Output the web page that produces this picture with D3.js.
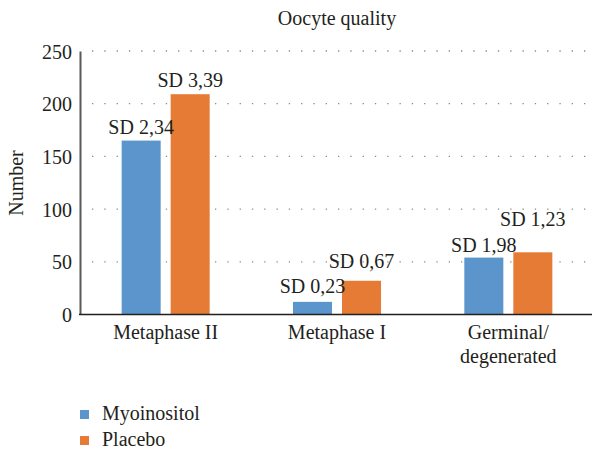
<!DOCTYPE html>
<html lang="en">
<head>
<meta charset="UTF-8">
<title>Oocyte quality</title>
<script src="https://d3js.org/d3.v7.min.js"></script>
<style>
    body { margin: 0; background: #fff; }
</style>
</head>
<body>
<div id="chart"></div>
<script>
    // data
    const categories = ["Metaphase II", "Metaphase I", "Germinal/\ndegenerated"];
    const series = ["Myoinositol", "Placebo"];
    const myoinositol = [165, 12, 54];
    const placebo = [209, 32, 59];
    const sdMyo = ["SD 2,34", "SD 0,23", "SD 1,98"];
    const sdPla = ["SD 3,39", "SD 0,67", "SD 1,23"];
    const yTicks = [0, 50, 100, 150, 200, 250];

    // how far each SD label sits above its bar (px)
    const liftMyo = [7, 9, 6];
    const liftPla = [7, 13, 26];

    const colors = ["#5b95cb", "#e57b35"];
    const serif = "'Liberation Serif', 'Times New Roman', serif";
    const fs = "20px";
    const width = 592, height = 451;

    const svg = d3.select("#chart").append("svg")
        .attr("width", width)
        .attr("height", height);

    const x = d3.scaleBand()
        .domain(categories)
        .range([80, 594]);

    const x1 = d3.scaleBand()
        .domain(series)
        .range([0, x.bandwidth()])
        .paddingInner(0.204)
        .paddingOuter(0.85);

    const y = d3.scaleLinear()
        .domain([0, 250])
        .range([314.5, 51]);

    function txt(sel) {
        return sel.style("font-family", serif).style("font-size", fs).attr("fill", "#231f20");
    }

    // title
    svg.append("text")
        .attr("x", 337).attr("y", 25)
        .attr("text-anchor", "middle")
        .call(txt)
        .text("Oocyte quality");

    // dotted gridlines
    svg.append("g")
        .selectAll("line")
        .data(yTicks.filter(d => d > 0))
        .join("line")
        .attr("x1", 92).attr("x2", 592)
        .attr("y1", d => y(d)).attr("y2", d => y(d))
        .attr("stroke", "#8a8a8a")
        .attr("stroke-width", 1.3)
        .attr("stroke-dasharray", "1.3,11");

    // y axis
    const yAxis = svg.append("g")
        .attr("transform", "translate(80,0)")
        .call(d3.axisLeft(y).tickValues(yTicks).tickSize(0).tickPadding(8));
    yAxis.select(".domain").attr("stroke", "#595959").attr("stroke-width", 2);
    yAxis.selectAll("text")
        .call(txt)
        .attr("dy", "0.35em");

    svg.append("text")
        .attr("transform", "translate(23,183) rotate(-90)")
        .attr("text-anchor", "middle")
        .call(txt)
        .text("Number");

    // bars
    const rows = categories.map((c, i) => ({
        cat: c,
        vals: [
            { s: series[0], v: myoinositol[i], sd: sdMyo[i], lift: liftMyo[i] },
            { s: series[1], v: placebo[i], sd: sdPla[i], lift: liftPla[i] }
        ]
    }));

    const groups = svg.append("g")
        .selectAll("g")
        .data(rows)
        .join("g")
        .attr("transform", d => "translate(" + x(d.cat) + ",0)");

    groups.selectAll("rect")
        .data(d => d.vals)
        .join("rect")
        .attr("x", d => x1(d.s))
        .attr("y", d => y(d.v))
        .attr("width", x1.bandwidth())
        .attr("height", d => y(0) - y(d.v))
        .attr("fill", (d, i) => colors[i]);

    groups.selectAll("text.sd")
        .data(d => d.vals)
        .join("text")
        .attr("class", "sd")
        .attr("x", d => x1(d.s) + x1.bandwidth() / 2)
        .attr("y", d => y(d.v) - d.lift)
        .attr("text-anchor", "middle")
        .call(txt)
        .text(d => d.sd);

    // x baseline
    svg.append("line")
        .attr("x1", 79).attr("x2", 592)
        .attr("y1", y(0)).attr("y2", y(0))
        .attr("stroke", "#231f20")
        .attr("stroke-width", 1.5);

    // category labels
    svg.append("g")
        .selectAll("text")
        .data(categories)
        .join("text")
        .attr("x", d => x(d) + x.bandwidth() / 2)
        .attr("y", 339)
        .attr("text-anchor", "middle")
        .call(txt)
        .selectAll("tspan")
        .data(d => d.split("\n"))
        .join("tspan")
        .attr("x", function () { return d3.select(this.parentNode).attr("x"); })
        .attr("dy", (d, i) => i === 0 ? 0 : 24)
        .text(d => d);

    // legend
    const legend = svg.append("g")
        .selectAll("g")
        .data(series)
        .join("g")
        .attr("transform", (d, i) => "translate(80," + (410 + i * 26) + ")");
    legend.append("rect")
        .attr("width", 9).attr("height", 9)
        .attr("fill", (d, i) => colors[i]);
    legend.append("text")
        .attr("x", 22).attr("y", 10)
        .call(txt)
        .text(d => d);
</script>
</body>
</html>
